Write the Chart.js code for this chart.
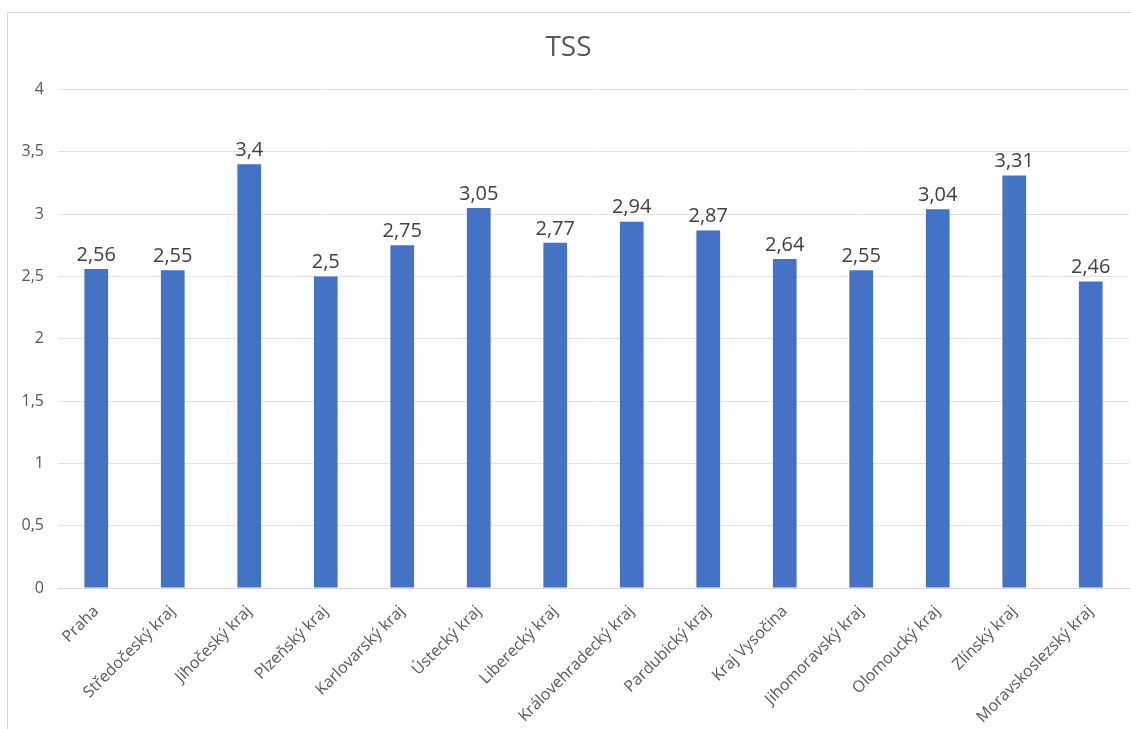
<!DOCTYPE html>
<html>
<head>
<meta charset="utf-8">
<script src="https://cdn.jsdelivr.net/npm/chart.js@4"></script>
<style>
  html, body { margin: 0; padding: 0; background: #fff; overflow: hidden; }
  #frame {
    position: absolute; left: 7px; top: 12px;
    width: 1130px; height: 730px;
    border: 1px solid #d9d9d9; box-sizing: border-box;
  }
  canvas { position: absolute; left: 0; top: 0; }
</style>
</head>
<body>
<div id="frame"><canvas id="c" width="1124" height="717"></canvas></div>
<script>
const regions = [
  'Praha', 'Středočeský kraj', 'Jihočeský kraj', 'Plzeňský kraj',
  'Karlovarský kraj', 'Ústecký kraj', 'Liberecký kraj',
  'Královehradecký kraj', 'Pardubický kraj', 'Kraj Vysočina',
  'Jihomoravský kraj', 'Olomoucký kraj', 'Zlínský kraj',
  'Moravskoslezský kraj'
];
const tss = [2.56, 2.55, 3.4, 2.5, 2.75, 3.05, 2.77, 2.94, 2.87, 2.64, 2.55, 3.04, 3.31, 2.46];
const yTicks = [0, 0.5, 1, 1.5, 2, 2.5, 3, 3.5, 4];

const fmt = v => String(v).replace('.', ',');
const fontFamily = '"Open Sans", "Noto Sans", sans-serif';

// labels above the bars
const barLabels = {
  id: 'barLabels',
  afterDatasetsDraw(chart) {
    const ctx = chart.ctx;
    const meta = chart.getDatasetMeta(0);
    ctx.save();
    ctx.font = '20px ' + fontFamily;
    ctx.fillStyle = '#404040';
    ctx.textAlign = 'center';
    ctx.textBaseline = 'bottom';
    meta.data.forEach((bar, i) => {
      ctx.fillText(fmt(tss[i]), bar.x, bar.y - 4);
    });
    ctx.restore();
  }
};

new Chart(document.getElementById('c'), {
  type: 'bar',
  data: {
    labels: regions,
    datasets: [{
      data: tss,
      backgroundColor: '#4472c4',
      borderWidth: 0,
      barPercentage: 0.62,
      categoryPercentage: 0.5
    }]
  },
  options: {
    responsive: false,
    animation: false,
    devicePixelRatio: 1,
    layout: { padding: { left: 0, right: 3, top: 0, bottom: 0 } },
    plugins: {
      legend: { display: false },
      tooltip: { enabled: false },
      title: {
        display: true,
        text: 'TSS',
        color: '#595959',
        font: { family: fontFamily, size: 28, weight: 'normal' },
        padding: { top: 18, bottom: 25 }
      }
    },
    scales: {
      x: {
        grid: { display: false, drawTicks: false },
        border: { color: '#d9d9d9' },
        ticks: {
          color: '#595959',
          font: { family: fontFamily, size: 16 },
          maxRotation: 45,
          minRotation: 45,
          autoSkip: false,
          padding: 14,
          labelOffset: 0
        },
        afterFit: s => { s.height = 142; }
      },
      y: {
        min: 0,
        max: 4,
        afterBuildTicks: s => { s.ticks = yTicks.map(v => ({ value: v })); },
        grid: { color: '#e3e3e3', drawTicks: false },
        border: { display: false },
        ticks: {
          color: '#595959',
          font: { family: fontFamily, size: 16 },
          padding: 14,
          callback: v => fmt(v)
        },
        afterFit: s => { s.width = 50; }
      }
    }
  },
  plugins: [barLabels]
});
</script>
</body>
</html>
